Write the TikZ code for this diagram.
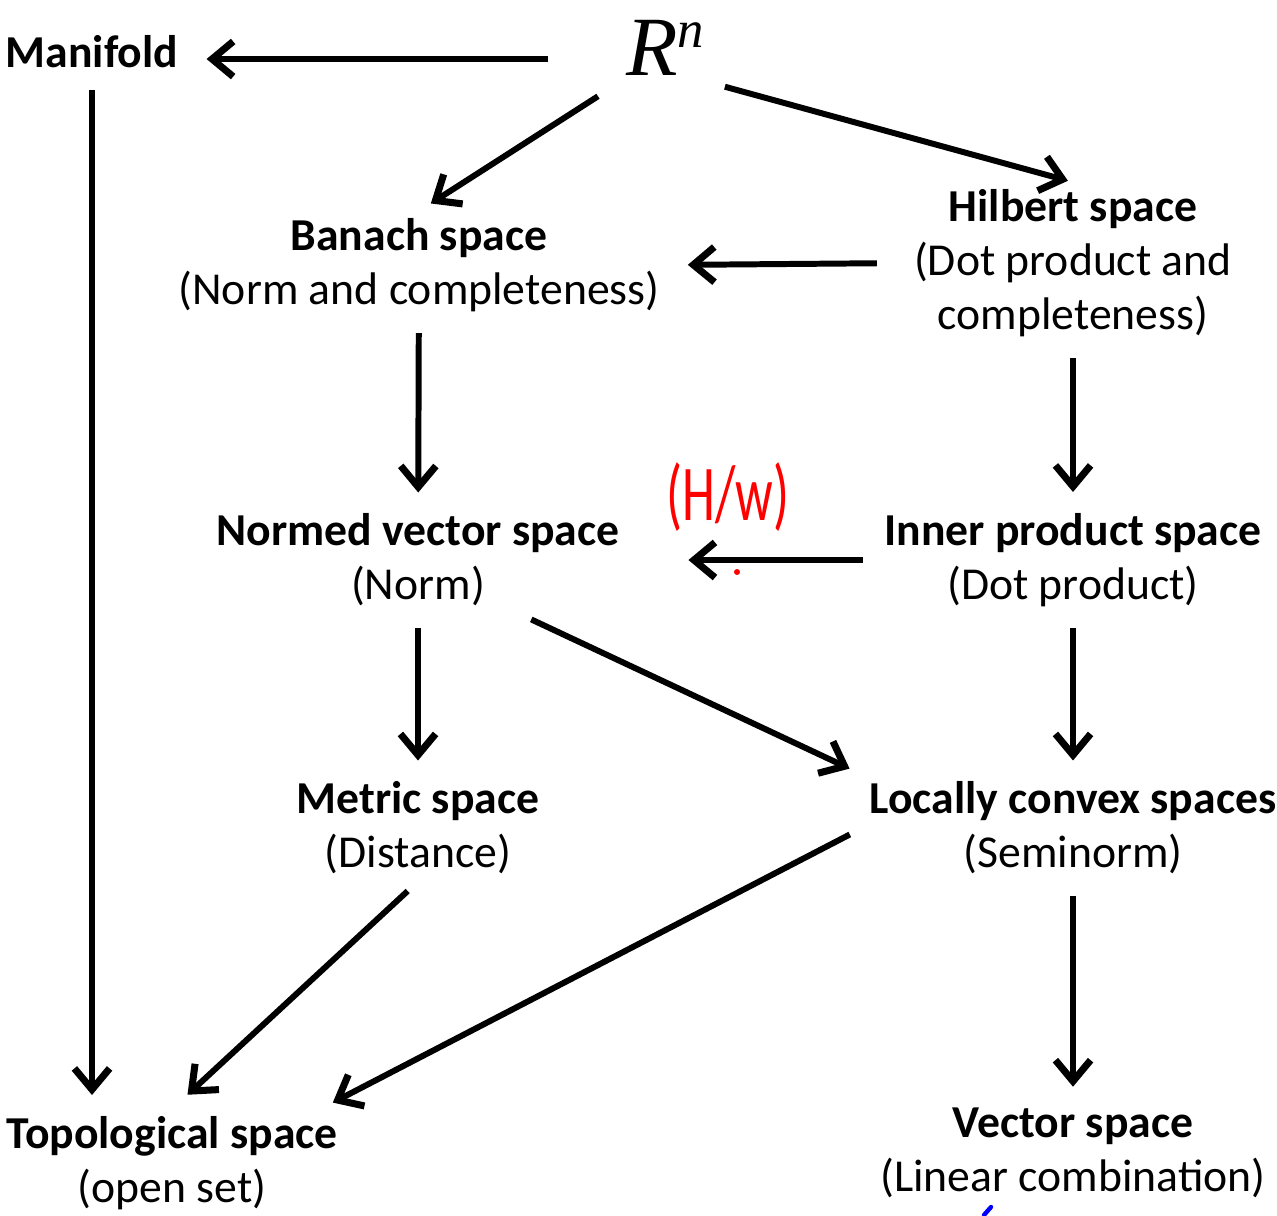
\documentclass[tikz,border=0pt]{standalone}
\usepackage{fontspec}
\setmainfont{Carlito}
\newfontfamily\rnfont{Liberation Serif}
\usetikzlibrary{arrows.meta}

\begin{document}
\begin{tikzpicture}[
    x=0.02cm, y=-0.02cm,
    spacebox/.style={align=center, inner sep=4pt, font=\fontsize{26}{30.6}\selectfont},
    arrow/.style={-{Straight Barb[length=12pt,width=20pt,line width=4pt]}, line width=3.4pt, shorten <=8pt, shorten >=8pt},
    note/.style={red, font=\fontsize{30}{30}\selectfont}
]
\useasboundingbox (0,0) rectangle (1277,1215);

% Top Row: R^n and Manifold
\node[spacebox] (rn) at (665,48) {\rnfont\fontsize{48}{48}\selectfont\itshape R\raisebox{16pt}{\fontsize{30}{30}\selectfont n}};
\node[spacebox] (manifold) at (92,52) {\bfseries Manifold};

% Complete spaces
\node[spacebox] (banach) at (419,265) {\textbf{Banach space}\\(Norm and completeness)};
\node[spacebox] (hilbert) at (1073,263) {\textbf{Hilbert space}\\(Dot product and\\completeness)};

% Normed and inner product
\node[spacebox] (normed) at (418,560) {\textbf{Normed vector space}\\(Norm)};
\node[spacebox] (inner) at (1073,560) {\textbf{Inner product space}\\(Dot product)};

% Metric and locally convex
\node[spacebox] (metric) at (418,828) {\textbf{Metric space}\\(Distance)};
\node[spacebox] (locally) at (1073,828) {\textbf{Locally convex spaces}\\(Seminorm)};

% Bottom Row
\node[spacebox] (topo) at (172,1163) {\textbf{Topological space}\\(open set)};
\node[spacebox] (vector) at (1073,1153) {\textbf{Vector space}\\(Linear combination)};

% Handwritten note
\node[note] (hw) at (728,497) {\scalebox{1}[1.5]{(H/w)}};
\fill[red] (737,572) circle (3);
\draw[blue, line width=2.5pt, line cap=round] (984,1215) -- (991,1207);

% Connectors
\draw[arrow, shorten <=40pt, shorten >=12pt] ([yshift=-4pt]rn.west |- manifold.east) -- ([yshift=-4pt]manifold.east);
\draw[arrow, shorten <=14pt] (rn.south west) -- (banach.north);
\draw[arrow, shorten >=3pt] (rn.south east) -- (hilbert.north);

\draw[arrow, shorten <=17pt, shorten >=12pt] (hilbert.west) -- (banach.east);
\draw[arrow] (banach) -- (normed);
\draw[arrow] (hilbert) -- (inner);

\draw[arrow, shorten >=35pt] (inner) -- (normed);
\draw[arrow] (normed) -- (metric);
\draw[arrow] (normed.-28) -- (locally.north west);
\draw[arrow] (inner) -- (locally);

\draw[arrow] (manifold) -- (manifold |- topo.north);
\draw[arrow, shorten >=12pt] (metric.south) -- (topo.north);
\draw[arrow] (locally.west) -- (topo.20);
\draw[arrow] (locally) -- (vector);

\end{tikzpicture}
\end{document}
